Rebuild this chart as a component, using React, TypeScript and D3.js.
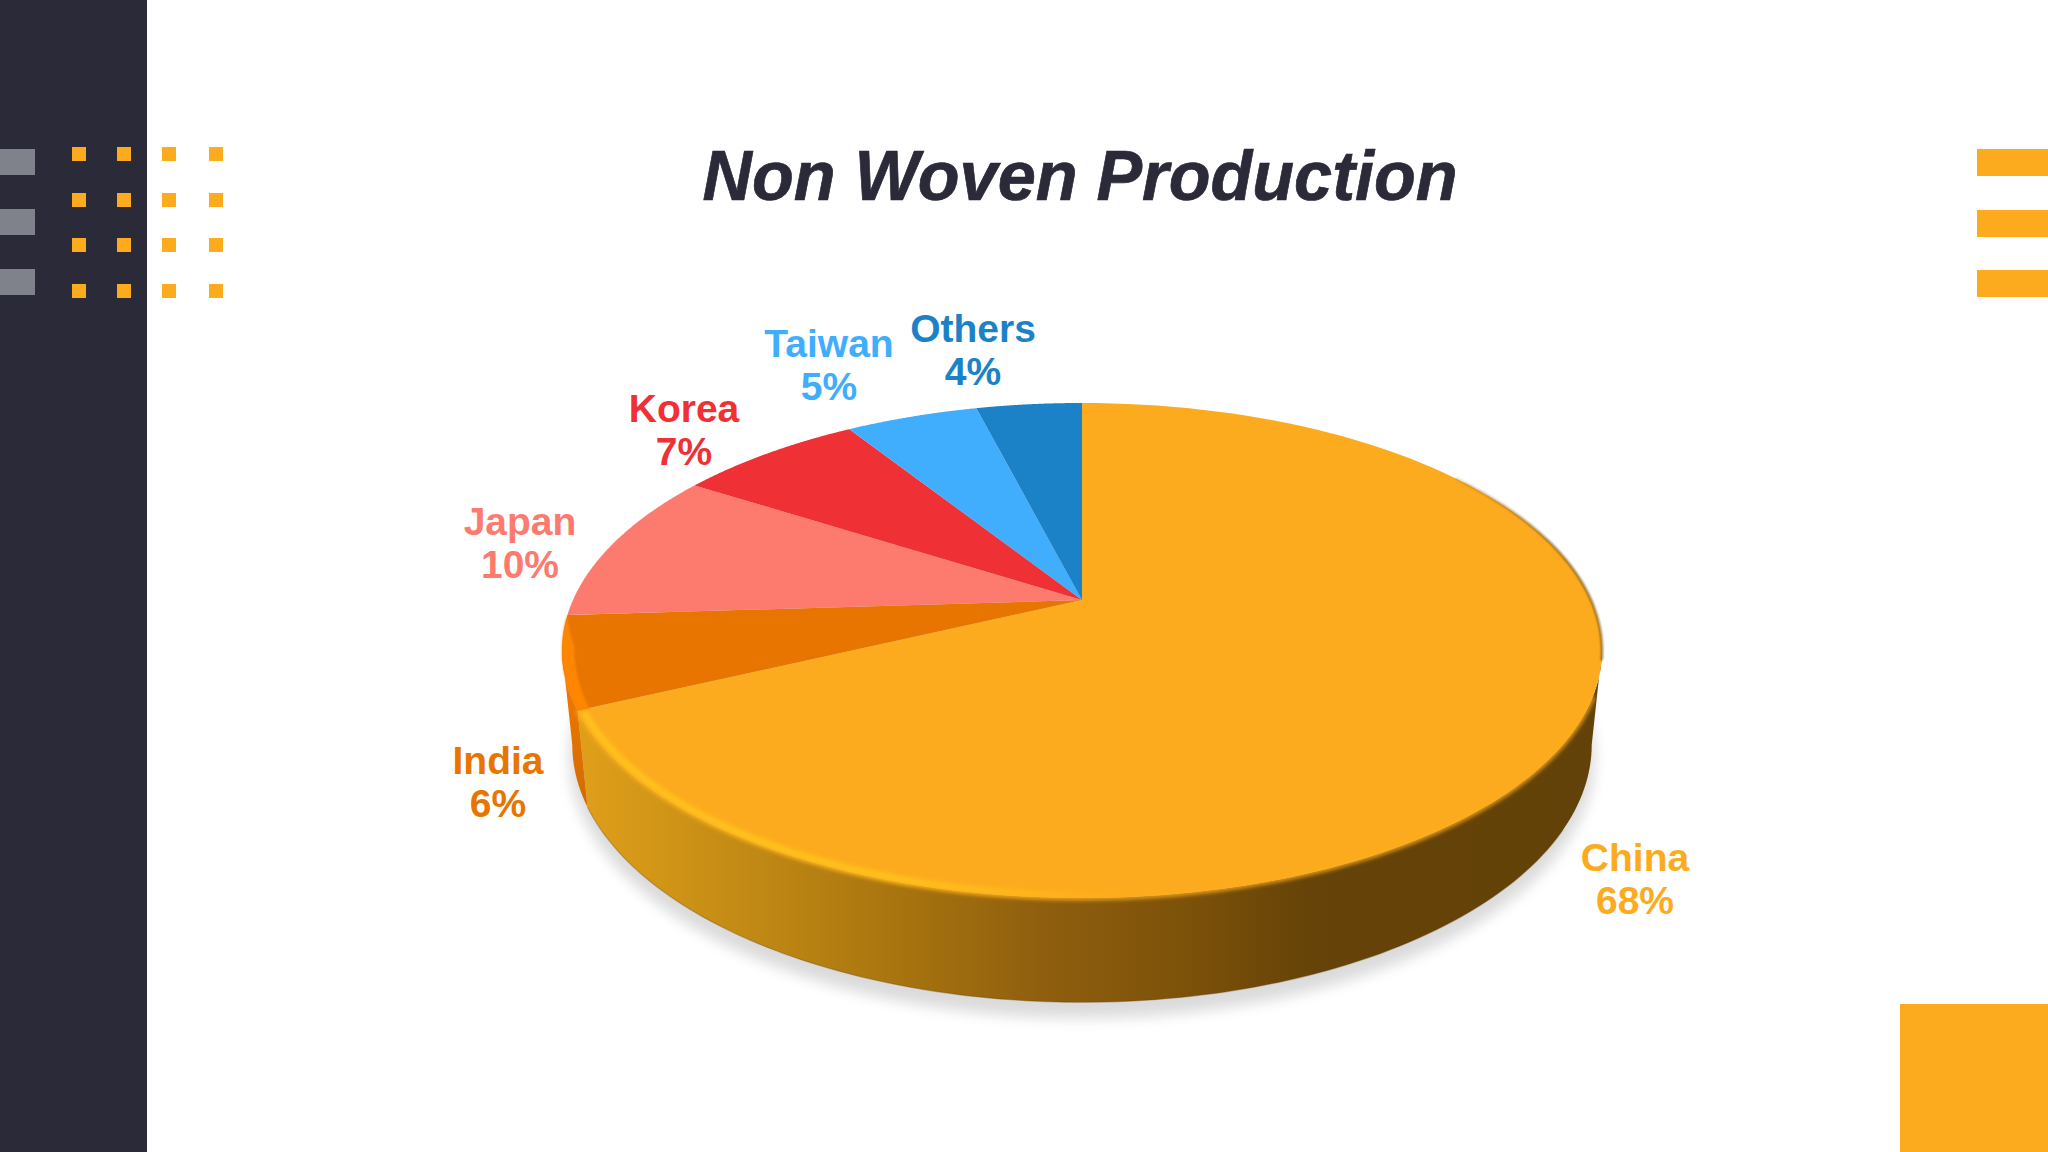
import React from "react";
import * as d3 from "d3";

const categories = ["China", "India", "Japan", "Korea", "Taiwan", "Others"];
const shares = [68, 6, 10, 7, 5, 4];
const sliceColors = ["#fdab1e", "#e87500", "#fd7b6e", "#ef3034", "#40aefc", "#1c82c8"];
const titleText = "Non Woven Production";
const labelCenters = [[1635, 871], [498, 774], [520, 535], [684, 422], [829, 357], [973, 342]];

const DARK = "#2a2a38";
const AMBER = "#fdab1e";
const dotXs = [72, 117, 162, 209];
const dotYs = [147, 193, 238, 284];
const greyYs = [149, 209, 269];
const barYs = [149, 210, 270];

const k = 0.204;
const top = { a: 509, p: 237.2, y0: 600 };
const inner = { a: 497, p: 232, y0: 600 };
const bevel = { a: 504, p: 234.6, y0: 600 };
const base = { a: 499, p: 247, y0: 692 };
const CX = 1082;

type Plane = { a: number; p: number; y0: number };
const project = (pl: Plane, t: number): [number, number] => {
  const u = Math.sin(t), v = Math.cos(t), w = 1 + k * v;
  return [CX + (pl.a * u) / w, pl.y0 - (pl.p * v) / w];
};
const sample = (pl: Plane, t0: number, t1: number, n = 120) =>
  d3.range(n + 1).map((i) => project(pl, t0 + ((t1 - t0) * i) / n));
const line = d3.line<[number, number]>();

const arcs = d3.pie<number>().sort(null).startAngle(0).endAngle(2 * Math.PI)(shares);
const face = (a0: number, a1: number) =>
  line([[CX, top.y0], ...sample(top, a0, a1)])! + "Z";
const wall = (a0: number, a1: number) =>
  line([...sample(top, a0, a1), ...sample(base, a1, a0)])! + "Z";
const deg = (d: number) => (d * Math.PI) / 180;
const full = line(sample(base, 0, 2 * Math.PI))! + "Z";

const chinaEnd = arcs[0].endAngle;
const indiaEnd = arcs[1].endAngle;
const rightLimb = deg(101.8);
const leftLimb = deg(258.2);

// India's bright rim tapers away toward the Japan slice
const rimOuter = sample(top, chinaEnd, indiaEnd, 40);
const rimInner = sample(inner, chinaEnd, indiaEnd, 40).map((p, i): [number, number] => {
  const f = Math.min(1, (40 - i) / 14);
  return [rimOuter[i][0] + (p[0] - rimOuter[i][0]) * f, rimOuter[i][1] + (p[1] - rimOuter[i][1]) * f];
});

export default function App() {
  return (
    <svg width={2048} height={1152} viewBox="0 0 2048 1152"
      style={{ position: "absolute", left: 0, top: 0, background: "#fff" }}>
      <defs>
        <linearGradient id="wallG" gradientUnits="userSpaceOnUse" x1={570} x2={1610} y1={0} y2={0}>
          <stop offset="0.01" stopColor="#e09f1a" />
          <stop offset="0.125" stopColor="#ca9016" />
          <stop offset="0.317" stopColor="#a8740f" />
          <stop offset="0.452" stopColor="#8f5f0e" />
          <stop offset="0.606" stopColor="#7a5009" />
          <stop offset="0.71" stopColor="#664308" />
          <stop offset="1" stopColor="#624208" />
        </linearGradient>
        <linearGradient id="hiG" gradientUnits="userSpaceOnUse" x1={580} x2={1120} y1={0} y2={0}>
          <stop offset="0" stopColor="#ffc51c" stopOpacity="1" />
          <stop offset="0.6" stopColor="#ffc51c" stopOpacity="0.95" />
          <stop offset="1" stopColor="#ffc51c" stopOpacity="0" />
        </linearGradient>
        <linearGradient id="indG" gradientUnits="userSpaceOnUse" x1={0} x2={0} y1={700} y2={820}>
          <stop offset="0" stopColor="#ec7600" />
          <stop offset="1" stopColor="#cf6900" />
        </linearGradient>
        <linearGradient id="edgeG" gradientUnits="userSpaceOnUse" x1={1400} x2={1560} y1={0} y2={0}>
          <stop offset="0" stopColor="#7a5410" stopOpacity="0" />
          <stop offset="1" stopColor="#7a5410" stopOpacity="1" />
        </linearGradient>
        <filter id="soft" x="-5%" y="-5%" width="110%" height="110%">
          <feGaussianBlur stdDeviation="2" />
        </filter>
        <filter id="soft1" x="-10%" y="-10%" width="120%" height="120%">
          <feGaussianBlur stdDeviation="1" />
        </filter>
        <filter id="shadow" x="-10%" y="-10%" width="120%" height="120%">
          <feGaussianBlur stdDeviation="7" />
        </filter>
      </defs>

      <rect x={0} y={0} width={147} height={1152} fill={DARK} />
      {greyYs.map((y) => <rect key={y} x={0} y={y} width={35} height={26} fill="#7f818b" />)}
      {dotYs.map((y) => dotXs.map((x) => (
        <rect key={`${x}-${y}`} x={x} y={y} width={14} height={14} fill={AMBER} />
      )))}
      {barYs.map((y) => <rect key={y} x={1977} y={y} width={71} height={27} fill={AMBER} />)}
      <rect x={1900} y={1004} width={148} height={148} fill={AMBER} />

      <text x={1080} y={200} textAnchor="middle" fontFamily="Liberation Sans" fontWeight="bold"
        fontStyle="italic" fontSize={71} fill={DARK} stroke={DARK} strokeWidth={0.7}
        textLength={755} lengthAdjust="spacingAndGlyphs">{titleText}</text>

      <path d={full} fill="#000" stroke="#000" strokeWidth={6} opacity={0.14} filter="url(#shadow)" transform="translate(0,13)" />

      <path d={wall(rightLimb, chinaEnd)} fill="url(#wallG)" />
      <path d={wall(chinaEnd, leftLimb)} fill="url(#indG)" />
      <path d={line(sample(base, deg(120), chinaEnd))!} fill="none" stroke="#6a4500" strokeWidth={1.2} opacity={0.35} />

      <path d={face(arcs[0].startAngle, arcs[0].endAngle)} fill={sliceColors[0]} />
      <path d={line(sample(top, deg(55), deg(104)))!} fill="none" stroke="url(#edgeG)" strokeWidth={1.8} filter="url(#soft1)" />
      <path d={line(sample(top, deg(112), chinaEnd))!} fill="none" stroke={AMBER} strokeWidth={4} filter="url(#soft)" />
      <path d={line(sample(bevel, deg(150), chinaEnd - 0.01))!} fill="none" stroke="url(#hiG)" strokeWidth={6} filter="url(#soft)" />

      {arcs.slice(1).map((d, i) => (
        <path key={i} d={face(d.startAngle, d.endAngle)} fill={sliceColors[i + 1]} />
      ))}
      <path d={line([...rimOuter, ...rimInner.reverse()])! + "Z"} fill="#ff8600" filter="url(#soft1)" />

      {categories.map((c, i) => (
        <text key={c} textAnchor="middle" fontFamily="Liberation Sans" fontWeight="bold"
          fontSize={39} fill={sliceColors[i]}>
          <tspan x={labelCenters[i][0]} y={labelCenters[i][1]}>{c}</tspan>
          <tspan x={labelCenters[i][0]} y={labelCenters[i][1] + 43}>{shares[i]}%</tspan>
        </text>
      ))}
    </svg>
  );
}
